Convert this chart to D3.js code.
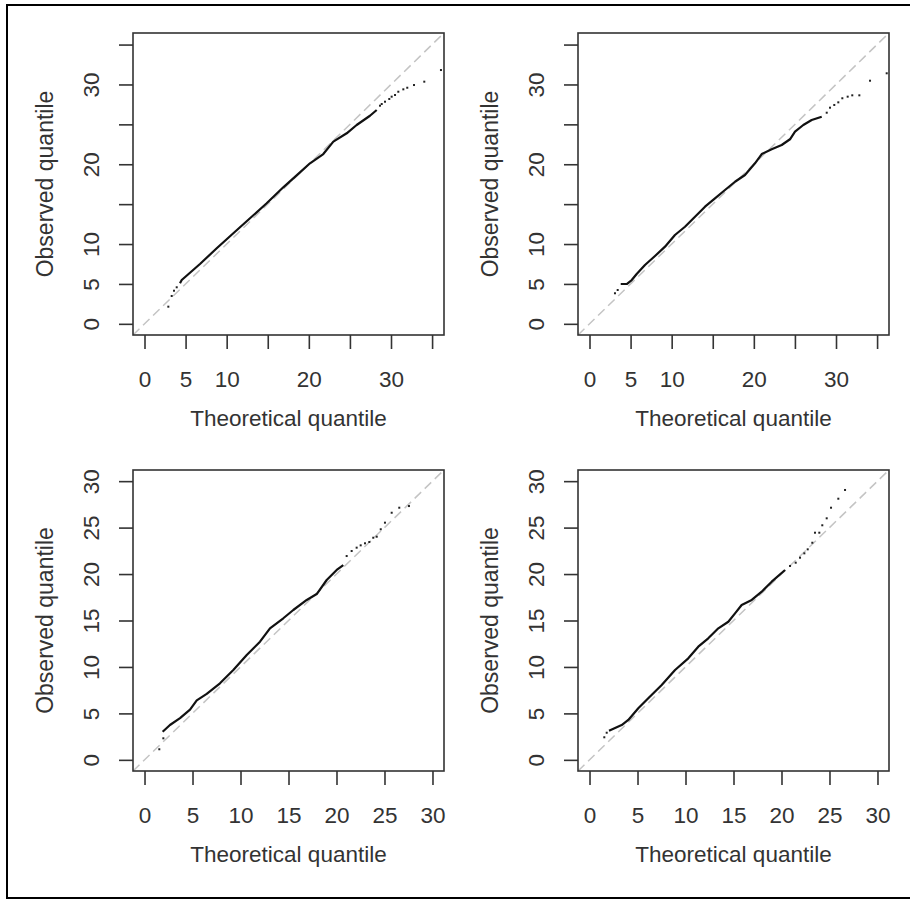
<!DOCTYPE html>
<html>
<head>
<meta charset="utf-8">
<script src="https://cdn.jsdelivr.net/npm/d3@7"></script>
<style>
  body { margin: 0; background: #fff; }
  svg { display: block; }
</style>
</head>
<body>
<div id="chart"></div>
<script>
// tick values and the labels R kept on each axis
const topTicks = [0, 5, 10, 15, 20, 25, 30, 35];
const topTickLabels = [0, 5, 10, 20, 30];
const bottomTicks = [0, 5, 10, 15, 20, 25, 30];
const bottomTickLabels = [0, 5, 10, 15, 20, 25, 30];

// axis limits (data range + R's 4% padding)
const topLimits = [-1.4, 36.45];
const bottomLimits = [-1.2, 31.2];

// [theoretical, observed]: dense run + isolated points
const topLeftRun = [[4.32,5.08],[4.53,5.49],[6.75,7.50],[8.79,9.47],[10.81,11.35],[12.84,13.23],[14.87,15.11],
  [16.89,17.11],[18.92,18.99],[20.14,20.12],[21.76,21.28],[22.98,22.83],[24.61,23.88],[25.82,24.92],[27.44,26.08],[28.26,26.8]];
const topLeftPoints = [[2.90,2.15],[3.31,3.49],[3.59,4.15],[3.92,4.58],
  [28.66,27.34],[28.87,27.55],[29.27,27.84],[29.79,28.18],[30.08,28.47],[30.49,28.68],[30.89,29.09],
  [31.50,29.39],[31.98,29.59],[32.80,29.93],[34.05,30.35],[36.08,31.81]];

const topRightRun = [[3.80,4.99],[4.53,4.99],[5.14,5.49],[5.74,6.25],[6.75,7.37],[7.97,8.50],[9.19,9.67],[10.40,11.13],
  [11.62,12.17],[12.84,13.43],[14.06,14.68],[15.27,15.73],[16.49,16.77],[17.71,17.81],[18.92,18.65],[20.14,20.12],
  [20.96,21.28],[22.17,21.87],[23.39,22.41],[24.40,23.13],[25.01,24.08],[26.02,24.92],[27.04,25.55],[28.26,25.96]];
const topRightPoints = [[3.10,3.83],[3.43,4.24],
  [28.87,26.46],[29.27,27.09],[29.79,27.43],[30.28,27.76],[30.77,28.27],[31.42,28.47],[31.98,28.64],
  [32.84,28.64],[34.14,30.47],[36.17,31.40]];

const bottomLeftRun = [[1.89,3.03],[2.65,3.75],[3.70,4.50],[4.74,5.40],[5.44,6.40],[6.48,7.10],[7.86,8.24],[9.25,9.67],
  [10.65,11.29],[12.03,12.72],[13.07,14.16],[14.46,15.24],[15.50,16.13],[16.90,17.21],[17.94,17.85],[18.98,19.36],
  [20.02,20.44],[20.71,20.97]];
const bottomLeftPoints = [[1.54,1.14],[1.96,2.32],
  [21.06,21.94],[21.58,22.48],[22.10,22.84],[22.52,23.09],[22.97,23.31],[23.42,23.45],[23.83,23.91],[24.19,24.02],
  [24.61,24.82],[25.05,25.53],[25.75,26.60],[26.54,27.14],[27.55,27.32]];

const bottomRightRun = [[2.03,3.14],[3.35,3.75],[4.04,4.29],[5.08,5.55],[6.12,6.63],[7.52,8.06],[8.91,9.67],[10.29,10.93],
  [11.33,12.18],[12.37,13.08],[13.42,14.16],[14.46,14.87],[15.16,15.77],[15.85,16.67],[16.90,17.21],[17.94,18.10],
  [18.98,19.18],[20.37,20.44]];
const bottomRightPoints = [[1.54,2.43],[1.79,2.92],
  [20.89,20.87],[21.48,21.22],[21.93,21.76],[22.38,22.23],[22.73,22.66],[23.21,23.37],[23.49,24.45],[23.94,24.45],
  [24.25,25.25],[24.71,26.00],[25.16,27.14],[25.92,28.11],[26.62,29.05]];

const xTitle = "Theoretical quantile";
const yTitle = "Observed quantile";

const width = 910, height = 899;
const font = "'Liberation Sans', Arial, Helvetica, sans-serif";
const ink = "#333";

const panels = [
  { col: 0, row: 0, run: topLeftRun, points: topLeftPoints, ticks: topTicks, labels: topTickLabels, lim: topLimits },
  { col: 1, row: 0, run: topRightRun, points: topRightPoints, ticks: topTicks, labels: topTickLabels, lim: topLimits },
  { col: 0, row: 1, run: bottomLeftRun, points: bottomLeftPoints, ticks: bottomTicks, labels: bottomTickLabels, lim: bottomLimits },
  { col: 1, row: 1, run: bottomRightRun, points: bottomRightPoints, ticks: bottomTicks, labels: bottomTickLabels, lim: bottomLimits }
];

const svg = d3.select("#chart")
  .append("svg")
  .attr("width", width)
  .attr("height", height)
  .attr("viewBox", [0, 0, width, height]);

svg.append("rect").attr("width", width).attr("height", height).attr("fill", "#fff");

// outer frame (right edge falls off the picture)
svg.append("path")
  .attr("d", `M${width + 2},5 H7 V898 H${width + 2}`)
  .attr("fill", "none")
  .attr("stroke", "#000")
  .attr("stroke-width", 2);

const boxTops = [33, 470], boxBottoms = [335, 771];

panels.forEach(p => {
  const left = 133 + 445 * p.col, right = left + 311;
  const top = boxTops[p.row], bottom = boxBottoms[p.row];

  const x = d3.scaleLinear().domain(p.lim).range([left, right]);
  const y = d3.scaleLinear().domain(p.lim).range([bottom, top]);

  const g = svg.append("g");

  // reference line y = x
  g.append("line")
    .attr("x1", x(p.lim[0])).attr("y1", y(p.lim[0]))
    .attr("x2", x(p.lim[1])).attr("y2", y(p.lim[1]))
    .attr("stroke", "#c4c4c4")
    .attr("stroke-width", 1.5)
    .attr("stroke-dasharray", "9,5");

  // dense part of the qq points
  g.append("path")
    .datum(p.run)
    .attr("d", d3.line().x(d => x(d[0])).y(d => y(d[1])))
    .attr("fill", "none")
    .attr("stroke", "#111")
    .attr("stroke-width", 2.2)
    .attr("stroke-linejoin", "round");

  g.selectAll(".pt")
    .data(p.points)
    .join("rect")
    .attr("class", "pt")
    .attr("x", d => x(d[0]) - 1)
    .attr("y", d => y(d[1]) - 1)
    .attr("width", 2)
    .attr("height", 2)
    .attr("fill", "#222");

  g.append("rect")
    .attr("x", left).attr("y", top)
    .attr("width", right - left).attr("height", bottom - top)
    .attr("fill", "none")
    .attr("stroke", ink)
    .attr("stroke-width", 1.6);

  const fmt = d => p.labels.includes(d) ? d : "";

  const xAxis = g.append("g")
    .attr("transform", `translate(0,${bottom})`)
    .call(d3.axisBottom(x).tickValues(p.ticks).tickSize(14).tickFormat(fmt));
  xAxis.select(".domain").remove();
  xAxis.selectAll("line").attr("stroke", ink).attr("stroke-width", 1.6);
  xAxis.selectAll("text")
    .attr("y", 52).attr("dy", null)
    .attr("fill", ink)
    .style("font", `22.5px ${font}`);

  const yAxis = g.append("g")
    .attr("transform", `translate(${left},0)`)
    .call(d3.axisLeft(y).tickValues(p.ticks).tickSize(14).tickFormat(fmt));
  yAxis.select(".domain").remove();
  yAxis.selectAll("line").attr("stroke", ink).attr("stroke-width", 1.6);
  yAxis.selectAll("text")
    .attr("x", null).attr("dy", null)
    .attr("text-anchor", "middle")
    .attr("transform", "translate(-34,0) rotate(-90)")
    .attr("fill", ink)
    .style("font", `22.5px ${font}`);

  g.append("text")
    .attr("x", (left + right) / 2)
    .attr("y", bottom + 91)
    .attr("text-anchor", "middle")
    .attr("fill", ink)
    .style("font", `22.5px ${font}`)
    .text(xTitle);

  g.append("text")
    .attr("transform", `translate(${left - 80},${(top + bottom) / 2}) rotate(-90)`)
    .attr("text-anchor", "middle")
    .attr("fill", ink)
    .style("font", `23px ${font}`)
    .text(yTitle);
});
</script>
</body>
</html>
